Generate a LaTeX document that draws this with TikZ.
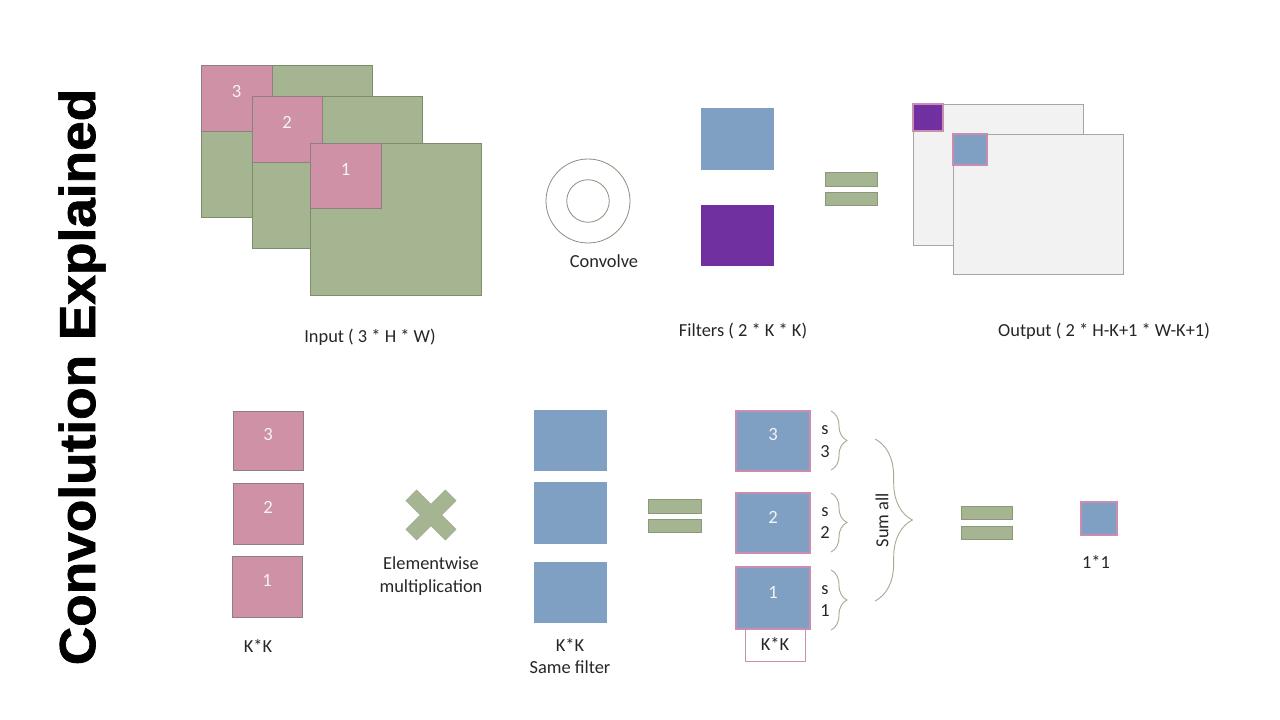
\documentclass[tikz,border=0pt]{standalone}
\usepackage{fontspec}
\setmainfont{Carlito}
\newfontfamily\titlefont[BoldFeatures={FakeBold=1.3}]{Liberation Sans}
\usetikzlibrary{fit,decorations.pathreplacing}
\definecolor{gfill}{HTML}{A5B592}
\definecolor{gedge}{HTML}{7D8C6A}
\definecolor{pfill}{HTML}{CF91A6}
\definecolor{pedge}{HTML}{8C8080}
\definecolor{bfill}{HTML}{7F9FC3}
\definecolor{bedge}{HTML}{C88DB0}
\definecolor{purp}{HTML}{7030A0}
\definecolor{ofill}{HTML}{F2F2F2}
\definecolor{oedge}{HTML}{A6A6A6}
\definecolor{bracec}{HTML}{A3AD92}
\definecolor{ringc}{HTML}{8E8C7E}
\definecolor{txt}{HTML}{262626}
\definecolor{numc}{HTML}{F4F4F4}
\begin{document}
\begin{tikzpicture}[x=0.75pt,y=-0.75pt,
  font=\fontsize{13.8}{17}\selectfont, text=txt,
  box/.style={inner sep=0pt, outer sep=0pt, line width=0.7pt},
  num/.style={font=\fontsize{14}{17}\selectfont, text=numc},
  gbox/.style={box, fill=gfill, draw=gedge},
  pbox/.style={box, num, fill=pfill, draw=pedge},
  bbox/.style={box, num, fill=bfill},
  bpbox/.style={box, num, fill=bfill, draw=bedge, line width=0.8pt},
  eqbar/.style={box, fill=gfill, draw=gedge!90},
  obox/.style={box, fill=ofill, draw=oedge},
  bracedeco/.style={draw=bracec, line width=0.7pt, decorate, decoration={brace, amplitude=#1}},
  lbl/.style={align=center, inner sep=0pt}
]
\useasboundingbox (0,0) rectangle (1280,720);

% title
\node[rotate=90, inner sep=0pt, text=black, font=\titlefont\bfseries\fontsize{38}{40}\selectfont] (title) at (82,377) {\scalebox{1.05}[1]{Convolution Explained}};

% input stack
\node[gbox, fit={(201,65) (372,217)}] (g3) {};
\node[pbox, fit={(201,65) (272,131)}] (p3) {3};
\node[gbox, fit={(252,96) (422,248)}] (g2) {};
\node[pbox, fit={(252,96) (322,162)}] (p2) {2};
\node[gbox, fit={(310,143) (481,295)}] (g1) {};
\node[pbox, fit={(310,143) (381,208)}] (p1) {1};
\node[lbl] (inlbl) at (370,337) {Input ( 3 * H * W)};

% convolve
\node[circle, draw=ringc, line width=0.6pt, minimum size=84*0.75pt, inner sep=0pt] (ringout) at (588,201) {};
\node[circle, draw=ringc, line width=0.6pt, minimum size=42.5*0.75pt, inner sep=0pt] (ringin) at (588,201) {};
\node[lbl] (convlbl) at (604,261) {Convolve};

% filters
\node[bbox, fit={(701,108) (774,170)}] (f1) {};
\node[box, fill=purp, fit={(701,205) (774,266)}] (f2) {};
\node[lbl] (filtlbl) at (743,331) {Filters ( 2 * K * K)};

% equals top
\node[eqbar, fit={(825,172) (877,186)}] (eqa1) {};
\node[eqbar, fit={(825,192) (877,205)}] (eqa2) {};

% output
\node[obox, fit={(913,104) (1083,245)}] (o2) {};
\node[box, fill=purp, draw=bedge, line width=0.8pt, fit={(913,104) (943,131)}] (o2c) {};
\node[obox, fit={(953,134) (1123,274)}] (o1) {};
\node[bpbox, fit={(953,134) (987,165)}] (o1c) {};
\node[lbl] (outlbl) at (1104,331) {Output ( 2 * H-K+1 * W-K+1)};

% bottom: pink column
\node[pbox, fit={(233,411) (303,470)}] (k3) {3};
\node[pbox, fit={(233,483) (303,544)}] (k2) {2};
\node[pbox, fit={(232,556) (302,617)}] (k1) {1};
\node[lbl] (kklbl) at (258,646) {K*K};

% multiply sign
\filldraw[fill=gfill, draw=gedge!70, line width=0.5pt, shift={(431,515)}]
  (0,-10.6) -- (14.4,-25) -- (25,-14.4) -- (10.6,0) -- (25,14.4) -- (14.4,25)
  -- (0,10.6) -- (-14.4,25) -- (-25,14.4) -- (-10.6,0) -- (-25,-14.4) -- (-14.4,-25) -- cycle;
\node[lbl, font=\fontsize{13.8}{17.25}\selectfont] (mullbl) at (431,576) {Elementwise\\multiplication};

% same filter column
\node[bbox, fit={(534,410) (607,471)}] (s3) {};
\node[bbox, fit={(534,482) (607,544)}] (s2) {};
\node[bbox, fit={(534,562) (607,623)}] (s1) {};
\node[lbl, font=\fontsize{13.8}{17}\selectfont] (sflbl) at (570,656) {K*K\\Same filter};

% equals middle
\node[eqbar, fit={(648,499) (701,513)}] (eqb1) {};
\node[eqbar, fit={(648,519) (701,532)}] (eqb2) {};

% products
\node[bpbox, fit={(736,411) (810,471)}] (r3) {3};
\node[bpbox, fit={(736,493) (810,553)}] (r2) {2};
\node[bpbox, fit={(736,567) (810,629)}] (r1) {1};
\node[box, fill=white, draw=bedge, fit={(745,629) (805,661)}] (rkk) {};
\node[lbl] (rkklbl) at (775,644) {K*K};

% small braces
\coordinate (b3t) at (831,411); \coordinate (b3b) at (831,470);
\coordinate (b2t) at (831,493); \coordinate (b2b) at (831,552);
\coordinate (b1t) at (831,570); \coordinate (b1b) at (831,630);
\draw[bracedeco=12pt] (b3t) -- (b3b);
\draw[bracedeco=12pt] (b2t) -- (b2b);
\draw[bracedeco=12pt] (b1t) -- (b1b);
\node[lbl] (sl3) at (825,441.5) {s\\3};
\node[lbl] (sl2) at (825,523) {s\\2};
\node[lbl] (sl1) at (825,601) {s\\1};

% big brace
\coordinate (bbt) at (875,439); \coordinate (bbb) at (875,601);
\draw[bracedeco=28pt] (bbt) -- (bbb);
\node[lbl, rotate=90] (sumlbl) at (882,520) {Sum all};

% equals right
\node[eqbar, fit={(961,506) (1012,519)}] (eqc1) {};
\node[eqbar, fit={(961,526) (1012,539)}] (eqc2) {};

% result
\node[bpbox, fit={(1081,502) (1117,535)}] (res) {};
\node[lbl] (reslbl) at (1096,562) {1*1};
\end{tikzpicture}
\end{document}
